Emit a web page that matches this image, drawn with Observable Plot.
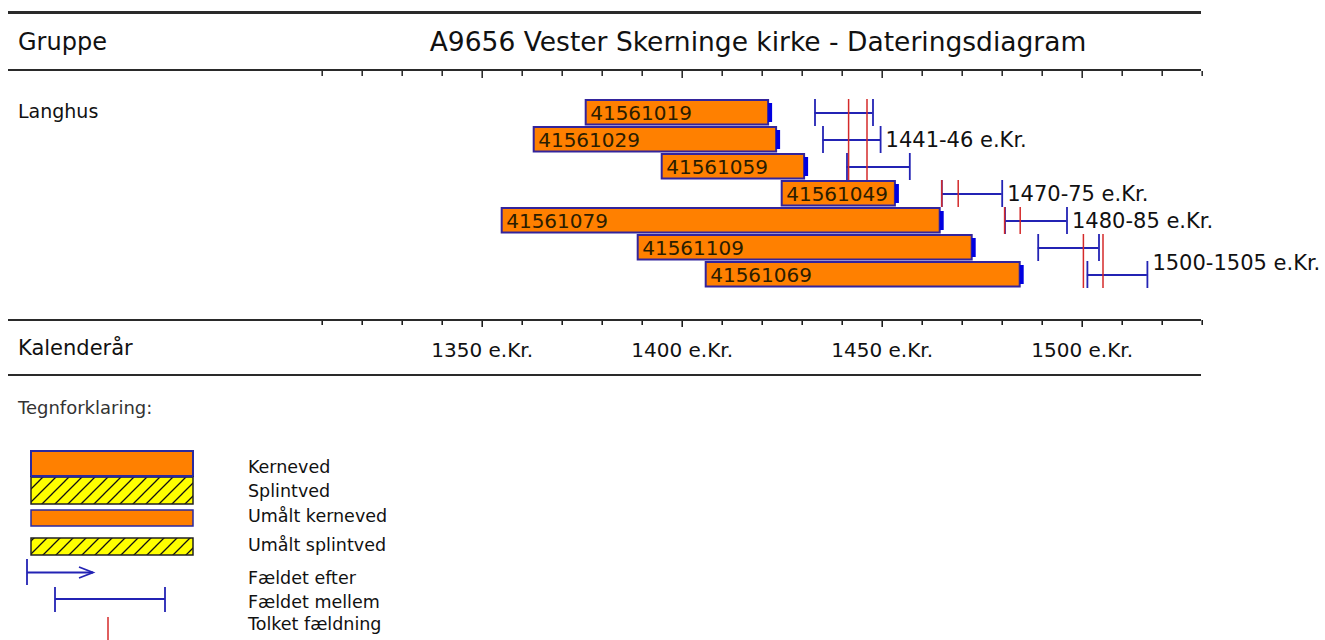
<!DOCTYPE html>
<html><head><meta charset="utf-8">
<script src="https://cdn.jsdelivr.net/npm/d3@7"></script>
<script src="https://cdn.jsdelivr.net/npm/@observablehq/plot@0.6"></script>
<style>
body{margin:0;background:#fff;}
#wrap{position:relative;width:1325px;height:640px;overflow:hidden;font-family:"DejaVu Sans",sans-serif;color:#111;}
#chart{position:absolute;left:0;top:0;}
.hl{position:absolute;left:8px;width:1193px;background:#2a2a2a;}
.t{position:absolute;white-space:nowrap;line-height:1;}
#legend{position:absolute;left:0;top:390px;}
</style></head><body>
<div id="wrap">
  <div id="chart"></div>
  <div class="hl" style="top:11px;height:3px"></div>
  <div class="hl" style="top:69px;height:2px"></div>
  <div class="hl" style="top:319px;height:2px"></div>
  <div class="hl" style="top:374px;height:2px"></div>
  <div class="t" style="left:18px;top:30px;font-size:24px">Gruppe</div>
  <div class="t" style="left:758px;top:29px;font-size:26.5px;transform:translateX(-50%)">A9656 Vester Skerninge kirke - Dateringsdiagram</div>
  <div class="t" style="left:18px;top:102px;font-size:19px">Langhus</div>
  <div class="t" style="left:18px;top:338px;font-size:21px">Kalenderår</div>
  <div class="t" style="left:18px;top:399px;font-size:18px;color:#333">Tegnforklaring:</div>
  <div id="legend"></div>
</div>
<script>
// ---- data ----
const ids = ["41561019","41561029","41561059","41561049","41561079","41561109","41561069"];
const barStart = [1376, 1363, 1395, 1425, 1355, 1389, 1406];
const barEnd   = [1421.6, 1423.6, 1430.6, 1453.3, 1464.5, 1472.5, 1484.5];
const fellFrom = [1433.2, 1435.2, 1441.2, 1464.9, 1480.7, 1489.0, 1501.3];
const fellTo   = [1447.7, 1449.6, 1456.9, 1480.0, 1496.2, 1504.2, 1516.3];
const interpLabels = ["1441-46 e.Kr.", "1470-75 e.Kr.", "1480-85 e.Kr.", "1500-1505 e.Kr."];
const interpYears  = [[1441.6, 1446.2], [1464.9, 1469.0], [1480.6, 1484.5], [1500.3, 1505.2]];
const interpRows   = [[0, 1, 2], [3], [4], [5, 6]];
const labelRow     = [1, 3, 4, 6];
const tickYears  = d3.range(1310, 1531, 10);
const labelYears = [1350, 1400, 1450, 1500];
const legendLabels = ["Kerneved", "Splintved", "Umålt kerneved", "Umålt splintved", "Fældet efter", "Fældet mellem", "Tolket fældning"];

// ---- tables ----
const bars = ids.map((id, i) => ({id, start: barStart[i], end: barEnd[i], from: fellFrom[i], to: fellTo[i]}));
const reds = [];
interpYears.forEach((ys, g) => interpRows[g].forEach(r => ys.forEach(y => reds.push({id: ids[r], year: y}))));
const labels = interpLabels.map((t, g) => ({id: ids[labelRow[g]], x: fellTo[labelRow[g]], text: t, raised: g === interpLabels.length - 1}));
const minorYears = tickYears.filter(d => !labelYears.includes(d));

const blue = "#2323b4", red = "#d42a2a";
const chart = Plot.plot({
  width: 1325, height: 385,
  marginTop: 71, marginBottom: 65, marginLeft: 8, marginRight: 124,
  style: {fontFamily: "DejaVu Sans", fontSize: "20px", color: "#111", background: "transparent", overflow: "visible"},
  x: {domain: [1310, 1530], range: [321.7, 1201.7], label: null},
  y: {type: "band", domain: ids, range: [97, 290.5], padding: 0, axis: null, label: null},
  marks: [
    Plot.ruleX(minorYears, {x: d => d, insetBottom: 244, stroke: "#222", strokeWidth: 1.5}),
    Plot.ruleX(labelYears, {x: d => d, insetBottom: 242, stroke: "#222", strokeWidth: 1.5}),
    Plot.axisX(minorYears, {anchor: "bottom", tickSize: 5, tickFormat: () => "", strokeWidth: 1.5, label: null}),
    Plot.axisX(labelYears, {anchor: "bottom", tickSize: 7, tickPadding: 15, strokeWidth: 1.5, fontSize: 20,
      tickFormat: d => `${d} e.Kr.`, label: null}),
    Plot.barX(bars, {x1: "start", x2: "end", y: "id", fill: "#ff8000", stroke: "#33249c", strokeWidth: 2, insetTop: 1, insetBottom: 1.5}),
    Plot.barX(bars, {x1: "end", x2: d => d.end + 1, y: "id", fill: "#0000e0", insetTop: 4, insetBottom: 4}),
    Plot.text(bars, {x: "start", y: "id", text: "id", textAnchor: "start", dx: 4, dy: 1, fontSize: 20, fill: "#2b1d00"}),
    Plot.ruleY(bars, {x1: "from", x2: "to", y: "id", stroke: blue, strokeWidth: 1.8}),
    Plot.tickX(bars, {x: "from", y: "id", stroke: blue, strokeWidth: 1.8}),
    Plot.tickX(bars, {x: "to", y: "id", stroke: blue, strokeWidth: 1.8}),
    Plot.tickX(reds, {x: "year", y: "id", stroke: red, strokeWidth: 1.5}),
    Plot.text(labels.filter(d => !d.raised), {x: "x", y: "id", text: "text", textAnchor: "start", dx: 5, fontSize: 21, fill: "#111"}),
    Plot.text(labels.filter(d => d.raised), {x: "x", y: "id", text: "text", textAnchor: "start", dx: 5, dy: -12, fontSize: 21, fill: "#111"})
  ]
});
document.getElementById("chart").appendChild(chart);

// ---- legend ----
const L = d3.select("#legend").append("svg").attr("width", 420).attr("height", 250);
const pat = L.append("defs").append("pattern").attr("id", "hatch").attr("patternUnits", "userSpaceOnUse")
  .attr("width", 13).attr("height", 13);
pat.append("rect").attr("width", 13).attr("height", 13).attr("fill", "#ffff00");
pat.append("path").attr("d", "M-2,15 L15,-2 M11,15 L15,11 M-2,2 L2,-2").attr("stroke", "#111").attr("stroke-width", 1.3);
L.append("rect").attr("x", 31).attr("y", 61).attr("width", 162).attr("height", 25).attr("fill", "#ff8000").attr("stroke", "#2a2aa0").attr("stroke-width", 2);
L.append("rect").attr("x", 31).attr("y", 87).attr("width", 162).attr("height", 27).attr("fill", "url(#hatch)").attr("stroke", "#222").attr("stroke-width", 1.5);
L.append("line").attr("x1", 31).attr("x2", 193).attr("y1", 86.5).attr("y2", 86.5).attr("stroke", "#2a2aa0").attr("stroke-width", 2);
L.append("rect").attr("x", 31).attr("y", 120).attr("width", 162).attr("height", 16).attr("fill", "#ff8000").attr("stroke", "#2a2aa0").attr("stroke-width", 1.5);
L.append("rect").attr("x", 31).attr("y", 148).attr("width", 162).attr("height", 17).attr("fill", "url(#hatch)").attr("stroke", "#222").attr("stroke-width", 1.5);
const g = L.append("g").attr("stroke", blue).attr("stroke-width", 1.8).attr("fill", "none");
g.append("line").attr("x1", 27).attr("x2", 27).attr("y1", 169).attr("y2", 195);
g.append("line").attr("x1", 27).attr("x2", 93).attr("y1", 182.5).attr("y2", 182.5);
g.append("path").attr("d", "M79,177 L93,182.5 L79,188");
g.append("line").attr("x1", 55).attr("x2", 55).attr("y1", 197).attr("y2", 222);
g.append("line").attr("x1", 165).attr("x2", 165).attr("y1", 197).attr("y2", 222);
g.append("line").attr("x1", 55).attr("x2", 165).attr("y1", 209).attr("y2", 209);
L.append("line").attr("x1", 108).attr("x2", 108).attr("y1", 227).attr("y2", 250).attr("stroke", red).attr("stroke-width", 1.5);
const ly = [77, 101, 126, 155, 188, 212, 234];
L.selectAll("text.lab").data(legendLabels).join("text").attr("class", "lab")
  .attr("x", 248).attr("y", (d, i) => ly[i]).attr("dy", "0.36em")
  .attr("font-family", "DejaVu Sans").attr("font-size", 17.5).attr("fill", "#111").text(d => d);
</script>
</body></html>
